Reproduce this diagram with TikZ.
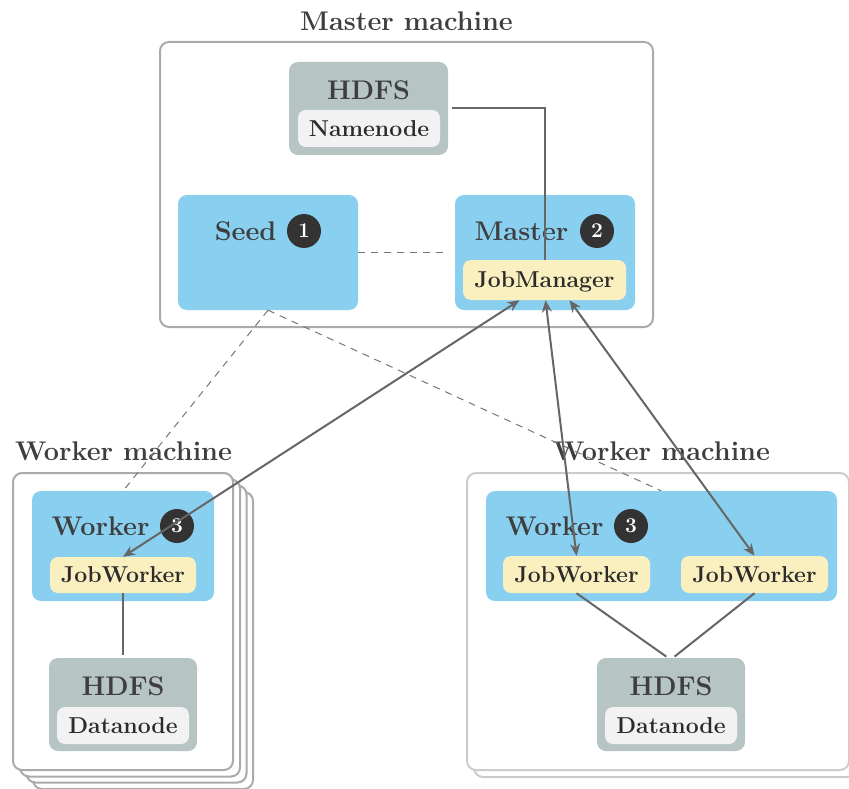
\documentclass[tikz,border=0pt]{standalone}
\usepackage{fontspec}
\usetikzlibrary{arrows.meta,calc}

\definecolor{sky}{HTML}{89CFF0}
\definecolor{hdfsgray}{HTML}{B7C4C4}
\definecolor{cream}{HTML}{FAF0BF}
\definecolor{paper}{HTML}{F2F2F2}
\definecolor{badgefill}{HTML}{333333}
\definecolor{headink}{HTML}{3E3E3E}
\definecolor{tagink}{HTML}{2B2B2B}
\definecolor{frame}{HTML}{AAAAAA}
\definecolor{framelight}{HTML}{CCCCCC}
\definecolor{wire}{HTML}{666666}

\newcommand\headfont{\fontsize{27}{31}\selectfont\bfseries}
\newcommand\tagfont{\fontsize{23}{27}\selectfont\bfseries}
\newcommand\badgefont{\fontsize{21}{24}\selectfont\bfseries}

\begin{document}
\begin{tikzpicture}[x=1pt,y=-1pt,
  machine/.style={rectangle, draw=frame, line width=2pt, fill=white, rounded corners=9pt, inner sep=0pt},
  machinelight/.style={machine, draw=framelight},
  box/.style={rectangle, rounded corners=9pt, inner sep=0pt},
  bluebox/.style={box, fill=sky},
  hdfsbox/.style={box, fill=hdfsgray},
  tag/.style={box, rounded corners=8pt, font=\tagfont, text=tagink, text height=15.8pt, text depth=0pt},
  jobtag/.style={tag, fill=cream},
  nodetag/.style={tag, fill=paper},
  heading/.style={font=\headfont, text=headink, inner sep=0pt, text height=18.5pt, text depth=0pt},
  badge/.style={circle, fill=badgefill, text=white, font=\badgefont, minimum size=34pt, inner sep=0pt},
  wireline/.style={draw=wire, line width=2pt},
  duplex/.style={wireline, {Stealth[length=12pt,width=10pt]}-{Stealth[length=12pt,width=10pt]}},
  hint/.style={draw=wire!90, line width=1pt, dash pattern=on 7pt off 6pt},
]
\clip (0,0) rectangle (849,789);
\useasboundingbox (0,0) rectangle (849,789);

% ---------- master machine ----------
\node[machine, minimum width=493pt, minimum height=285pt] (mm) at (406.5,184.5) {};
\node[heading] (mmtitle) at (406.5,21) {Master machine};

\node[hdfsbox, minimum width=159pt, minimum height=93pt] (hdfsM) at (368.5,108.5) {};
\node[heading] (hdfsMt) at (368.5,90.5) {HDFS};
\node[nodetag, minimum width=142pt, minimum height=37pt] (namenode) at (369,128.5) {Namenode};

\node[bluebox, minimum width=180pt, minimum height=115pt] (seed) at (268,252.5) {};
\node[heading] (seedt) at (245.5,231) {Seed};
\node[badge] (b1) at (304,231) {1};

\node[bluebox, minimum width=180pt, minimum height=115pt] (master) at (545,252.5) {};
\node[heading] (mastert) at (521.5,231) {Master};
\node[badge] (b2) at (597,231) {2};
\node[jobtag, minimum width=163pt, minimum height=40pt] (jm) at (544.5,280) {JobManager};

% ---------- left worker machine (stack) ----------
\node[machine, minimum width=220pt, minimum height=297pt] (wmL4) at (143,640.5) {};
\node[machine, minimum width=220pt, minimum height=297pt] (wmL3) at (136.5,634) {};
\node[machine, minimum width=220pt, minimum height=297pt] (wmL2) at (130,628) {};
\node[machine, minimum width=220pt, minimum height=297pt] (wmL) at (123,621.5) {};
\node[heading] (wmLtitle) at (123.5,451) {Worker machine};

% ---------- right worker machine (stack) ----------
\node[machinelight, minimum width=382pt, minimum height=297pt] (wmR2) at (665,628.5) {};
\node[machinelight, minimum width=382pt, minimum height=297pt] (wmR) at (658,621.5) {};
\node[heading] (wmRtitle) at (661.5,451) {Worker machine};

% seed hints towards the workers
\coordinate (seedfoot) at (seed.south);
\coordinate (wLtop) at (123,491);
\coordinate (wRtop) at (661.5,491);
\draw[hint] (seedfoot) -- (wLtop);
\draw[hint] (seedfoot) -- (wRtop);

% left worker
\node[bluebox, minimum width=182pt, minimum height=110pt] (workerL) at (123,546) {};
\node[heading] (workerLt) at (100.5,526) {Worker};
\node[badge] (b3L) at (177,526) {3};
\node[jobtag, minimum width=146pt, minimum height=36pt] (jwL) at (123,575) {JobWorker};

\node[hdfsbox, minimum width=148pt, minimum height=93pt] (hdfsL) at (123,704.5) {};
\node[heading] (hdfsLt) at (123,686.5) {HDFS};
\node[nodetag, minimum width=132pt, minimum height=37pt] (dnL) at (123,725.5) {Datanode};

% right worker
\node[bluebox, minimum width=351pt, minimum height=110pt] (workerR) at (661.5,546) {};
\node[heading] (workerRt) at (554.5,526) {Worker};
\node[badge] (b3R) at (631,526) {3};
\node[jobtag, minimum width=147pt, minimum height=37pt] (jwR1) at (576.5,574.5) {JobWorker};
\node[jobtag, minimum width=147pt, minimum height=37pt] (jwR2) at (754.5,574.5) {JobWorker};

\node[hdfsbox, minimum width=148pt, minimum height=93pt] (hdfsR) at (671,704.5) {};
\node[heading] (hdfsRt) at (671,686.5) {HDFS};
\node[nodetag, minimum width=132pt, minimum height=37pt] (dnR) at (671,725.5) {Datanode};

% ---------- connectors ----------
\draw[hint, line width=1.2pt, shorten >=7pt] (seed.east) -- (master.west);
\draw[wireline, shorten <=4pt] (hdfsM.east) -| (jm.north);

\draw[wireline, shorten >=3pt] (jwL.south) -- (hdfsL.north);
\draw[wireline, shorten >=2pt] (jwR1.south) -- ([xshift=-3pt]hdfsR.north);
\draw[wireline, shorten >=2pt] (jwR2.south) -- ([xshift=2pt]hdfsR.north);

\draw[duplex] ([xshift=-25pt]jm.south) -- (jwL.north);
\draw[duplex] ([xshift=1pt]jm.south) -- (jwR1.north);
\draw[duplex] ([xshift=25pt]jm.south) -- (jwR2.north);
\end{tikzpicture}
\end{document}
